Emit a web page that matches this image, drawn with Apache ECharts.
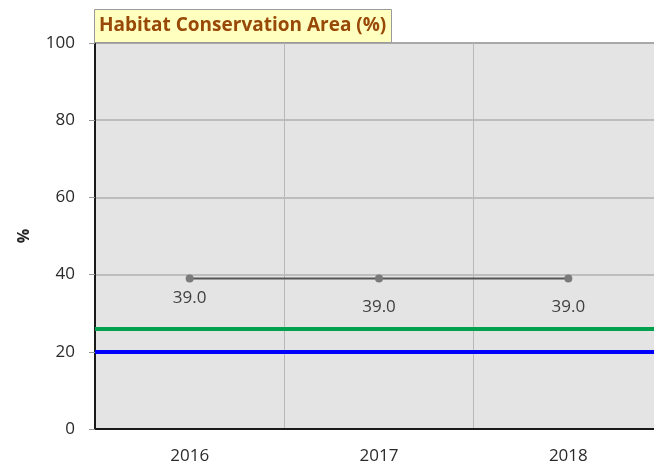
<!DOCTYPE html>
<html>
<head>
<meta charset="utf-8">
<script src="https://cdn.jsdelivr.net/npm/echarts@6/dist/echarts.min.js"></script>
<style>
  html, body { margin: 0; padding: 0; background: #fff; }
  #main { width: 654px; height: 465px; }
</style>
</head>
<body>
<div id="main"></div>
<script>
var years = ['2016', '2017', '2018'];
var areaPct = [39.0, 39.0, 39.0];
var greenLevel = 26;
var blueLevel = 20;
var labelGaps = [7, 16, 16];

var chart = echarts.init(document.getElementById('main'));

var pts = [];
for (var i = 0; i < areaPct.length; i++) {
    pts.push({
        value: areaPct[i],
        label: { distance: labelGaps[i] }
    });
}

var option = {
    animation: false,
    title: {
        text: 'Habitat Conservation Area (%)',
        left: 94,
        top: 9,
        padding: [6, 5, 6, 5],
        backgroundColor: '#ffffc0',
        borderColor: '#9a9a9a',
        borderWidth: 1,
        textStyle: {
            color: '#984807',
            fontSize: 19,
            lineHeight: 22,
            fontWeight: 'bold',
            fontFamily: 'Open Sans'
        }
    },
    grid: {
        left: 95,
        width: 568,
        top: 43,
        bottom: 36,
        outerBoundsMode: 'none',
        show: true,
        backgroundColor: '#e4e4e4',
        borderColor: '#333',
        borderWidth: 1
    },
    xAxis: {
        type: 'category',
        data: years,
        boundaryGap: true,
        axisLine: { lineStyle: { color: '#1a1a1a', width: 2 } },
        axisTick: { show: false },
        axisLabel: { color: '#2a2a2a', fontSize: 17, fontFamily: 'Open Sans', margin: 19 },
        splitLine: { show: true, lineStyle: { color: '#b8b8b8', width: 1 } }
    },
    yAxis: {
        type: 'value',
        min: 0,
        max: 100,
        interval: 20,
        name: '%',
        nameLocation: 'middle',
        nameGap: 63,
        nameRotate: 90,
        nameTextStyle: { color: '#222', fontSize: 16, fontWeight: 'bold', fontFamily: 'Open Sans' },
        axisLine: { show: true, lineStyle: { color: '#1a1a1a', width: 2 } },
        axisTick: { show: true, length: 6, lineStyle: { color: '#999' } },
        axisLabel: { color: '#2a2a2a', fontSize: 17, fontFamily: 'Open Sans', margin: 20 },
        splitLine: { show: true, lineStyle: { color: '#b0b0b0', width: 1.5 } }
    },
    series: [
        {
            type: 'line',
            data: pts,
            symbol: 'circle',
            symbolSize: 8,
            itemStyle: { color: '#7a7a7a' },
            lineStyle: { color: '#555', width: 2 },
            label: {
                show: true,
                position: 'bottom',
                color: '#404040',
                fontSize: 17,
                fontFamily: 'Open Sans',
                formatter: function (p) { return p.value.toFixed(1); }
            },
            markLine: {
                silent: true,
                symbol: 'none',
                label: { show: false },
                data: [
                    { yAxis: greenLevel, lineStyle: { color: '#00a04c', width: 4, type: 'solid' } },
                    { yAxis: blueLevel, lineStyle: { color: '#0000ff', width: 4, type: 'solid' } }
                ]
            },
            z: 5
        }
    ]
};

chart.setOption(option);
</script>
</body>
</html>
